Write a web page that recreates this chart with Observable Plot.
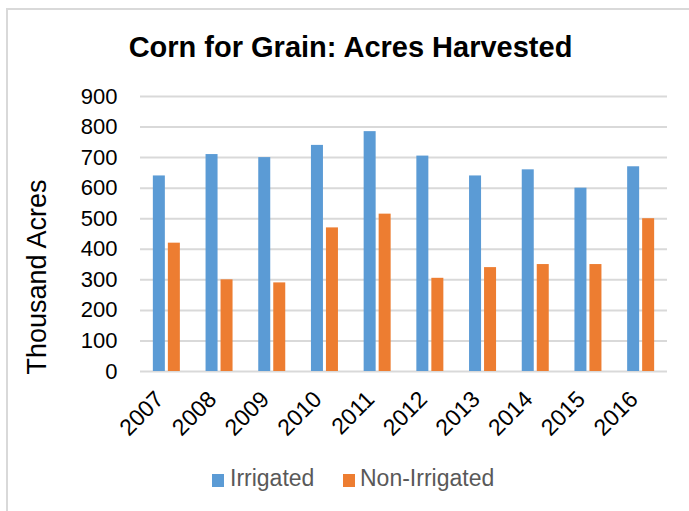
<!DOCTYPE html>
<html>
<head>
<meta charset="utf-8">
<script src="https://cdn.jsdelivr.net/npm/d3@7"></script>
<script src="https://cdn.jsdelivr.net/npm/@observablehq/plot@0.6"></script>
<style>
  html, body { margin: 0; padding: 0; background: #fff; }
  #wrap { position: relative; width: 689px; height: 511px; overflow: hidden; font-family: "Liberation Sans", Arial, sans-serif; }
  #frame { position: absolute; left: 6px; top: 8px; width: 800px; height: 700px; border-left: 2px solid #d9d9d9; border-top: 2px solid #d9d9d9; }
  #title { position: absolute; left: 6px; width: 689px; top: 33px; line-height: 29px; font-size: 29px; font-weight: bold; text-align: center; color: #000; }
  #chart { position: absolute; left: 0; top: 0; }
  .sw { position: absolute; width: 12px; height: 13px; top: 474px; }
  .lt { position: absolute; top: 467px; font-size: 23px; line-height: 23px; color: #595959; white-space: nowrap; }
</style>
</head>
<body>
<div id="wrap">
  <div id="frame"></div>
  <div id="chart"></div>
  <div id="title"></div>
  <div id="legend"></div>
</div>
<script>
const title = "Corn for Grain: Acres Harvested";
const yLabel = "Thousand Acres";
const years = ["2007","2008","2009","2010","2011","2012","2013","2014","2015","2016"];
const irrigated = [640, 710, 700, 740, 785, 705, 640, 660, 600, 670];
const nonIrrigated = [420, 300, 290, 470, 515, 305, 340, 350, 350, 500];
const yTicks = [0, 100, 200, 300, 400, 500, 600, 700, 800, 900];
const seriesNames = ["Irrigated", "Non-Irrigated"];
const seriesColors = ["#5B9BD5", "#ED7D31"];

const irrRows = years.map((y, i) => ({year: y, value: irrigated[i]}));
const nonRows = years.map((y, i) => ({year: y, value: nonIrrigated[i]}));

document.getElementById("title").textContent = title;

const chart = Plot.plot({
  width: 689,
  height: 511,
  marginTop: 96,
  marginBottom: 140,
  marginLeft: 140,
  marginRight: 22,
  style: { fontFamily: "'Liberation Sans', Arial, sans-serif", background: "transparent", color: "#000", overflow: "visible" },
  x: { type: "band", domain: years, padding: 0, round: false },
  y: { domain: [0, 900] },
  marks: [
    Plot.gridY(yTicks, { stroke: "#d9d9d9", strokeOpacity: 1, strokeWidth: 2 }),
    Plot.barY(irrRows, { x: "year", y: "value", fill: seriesColors[0], insetLeft: 20.35, insetRight: 20.35, dx: -7.5 }),
    Plot.barY(nonRows, { x: "year", y: "value", fill: seriesColors[1], insetLeft: 20.35, insetRight: 20.35, dx: 7.5 }),
    Plot.axisY(yTicks, { tickSize: 0, tickPadding: 23, fontSize: 22, label: null, fill: "#000" }),
    Plot.axisX({ tickSize: 0, tickRotate: -45, textAnchor: "end", fontSize: 23, label: null, tickPadding: 24, dx: -7, fill: "#000" }),
    Plot.text([yLabel], { frameAnchor: "left", textAnchor: "middle", dx: -103, dy: 43, rotate: -90, fontSize: 27, fill: "#000" })
  ]
});
document.getElementById("chart").appendChild(chart);

const legend = document.getElementById("legend");
const swX = [212, 343];
const txX = [230, 360];
seriesNames.forEach((name, i) => {
  const sw = document.createElement("div");
  sw.className = "sw";
  sw.style.left = swX[i] + "px";
  sw.style.background = seriesColors[i];
  legend.appendChild(sw);
  const t = document.createElement("div");
  t.className = "lt";
  t.style.left = txX[i] + "px";
  t.textContent = name;
  legend.appendChild(t);
});
</script>
</body>
</html>
